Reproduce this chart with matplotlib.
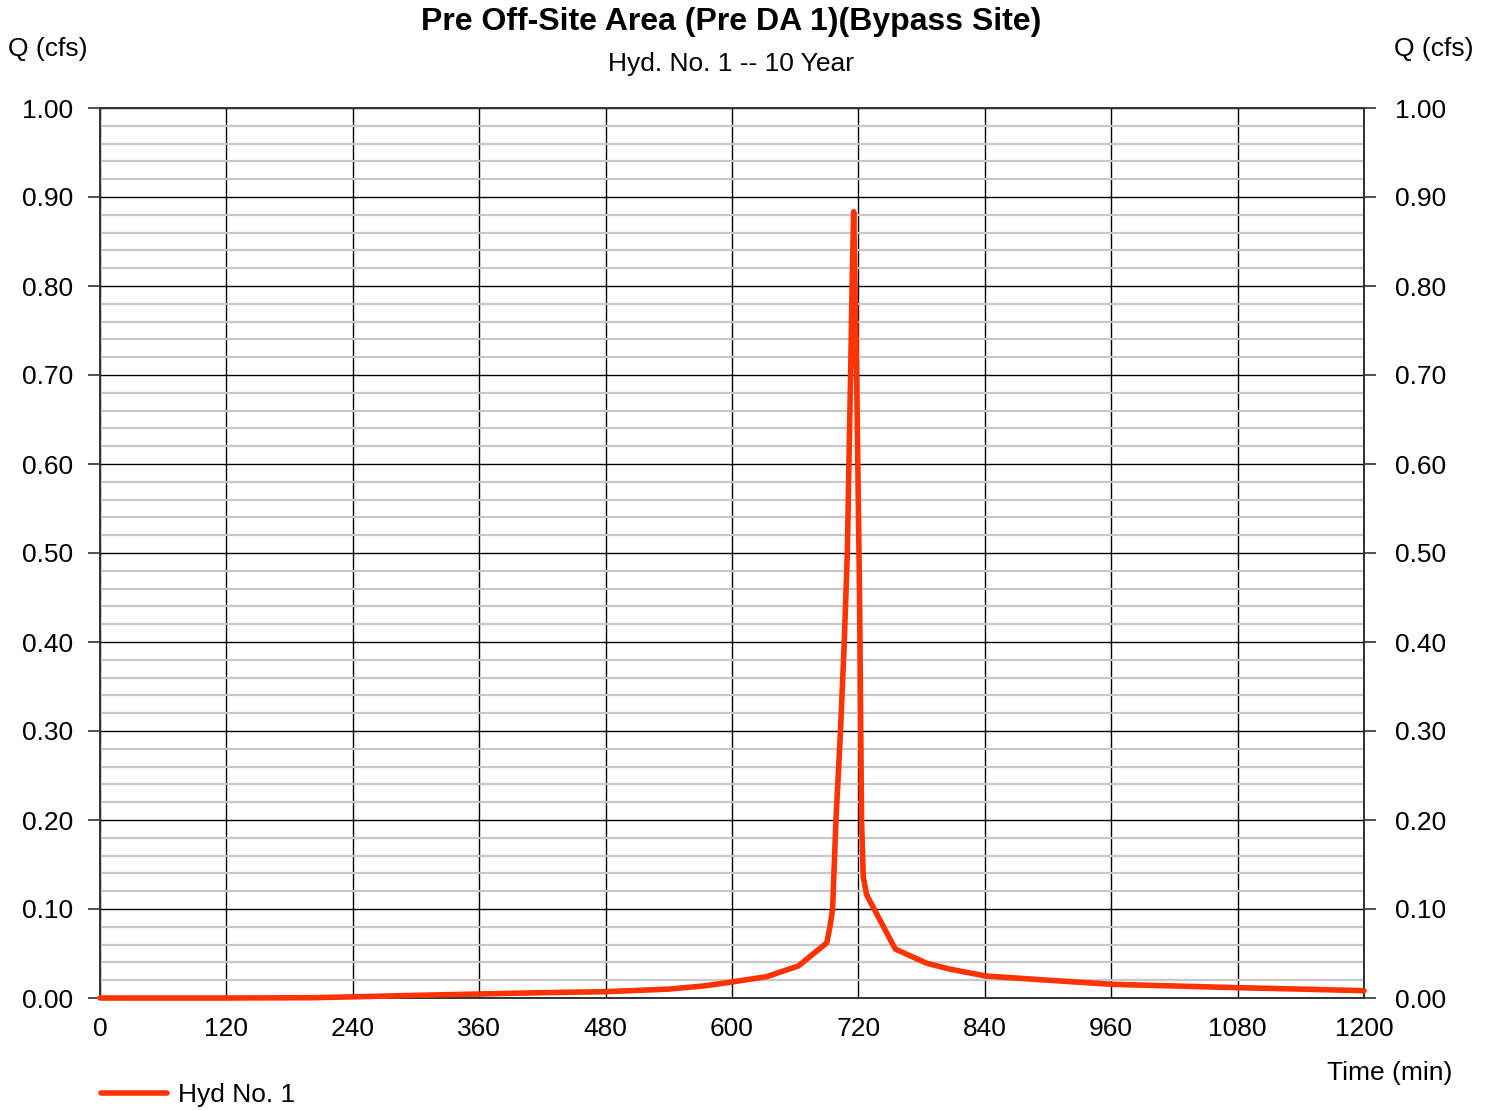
import matplotlib
matplotlib.use("Agg")
import matplotlib.pyplot as plt
from matplotlib.ticker import MultipleLocator

plt.rcParams["font.family"] = ["Liberation Sans", "DejaVu Sans"]

# hydrograph: time (min), flow (cfs)
time_min = [0, 120, 200, 240, 300, 360, 420, 480, 540, 573, 600, 633, 663,
            690, 693, 695.5, 698.7, 703, 706.6, 709.5, 711, 712.6, 714, 715.5,
            718.3, 720.9, 721.5, 723, 724.6, 727.8, 755, 785, 807, 841, 900,
            960, 1020, 1080, 1140, 1200]
flow_cfs = [0.0, 0.0, 0.0003, 0.0013, 0.003, 0.0045, 0.006, 0.0071, 0.010,
            0.0135, 0.018, 0.024, 0.036, 0.062, 0.08, 0.10, 0.20, 0.30, 0.40,
            0.50, 0.60, 0.70, 0.80, 0.8835, 0.70, 0.47, 0.40, 0.20, 0.136,
            0.116, 0.055, 0.039, 0.0324, 0.0247, 0.020, 0.0154, 0.0135, 0.0116,
            0.010, 0.0082]

q_ticks = [0.0, 0.1, 0.2, 0.3, 0.4, 0.5, 0.6, 0.7, 0.8, 0.9, 1.0]
title = "Pre Off-Site Area (Pre DA 1)(Bypass Site)"
subtitle = "Hyd. No. 1 -- 10 Year"
series_name = "Hyd No. 1"
line_color = "#FF3300"

W, H = 1491, 1110
fig = plt.figure(figsize=(W / 100, H / 100), dpi=100)
ax = fig.add_axes([100 / W, 1 - 998 / H, 1264 / W, 890 / H])

ax.set_xlim(0, 1200)
ax.set_ylim(0, 1.0)
ax.xaxis.set_major_locator(MultipleLocator(120))
ax.set_yticks(q_ticks)
ax.yaxis.set_minor_locator(MultipleLocator(0.02))
ax.yaxis.set_major_formatter(lambda v, p: f"{v:.2f}")

ax.grid(axis="y", which="minor", color="#c8c8c8", lw=1.6, zorder=0)
ax.grid(axis="y", which="major", color="black", lw=1.0, zorder=1)
ax.grid(axis="x", which="major", color="black", lw=1.0, zorder=1)
ax.set_axisbelow(True)

ax.tick_params(axis="y", which="major", left=True, right=False, labelleft=True,
               labelright=False, length=8.6, width=1.2, color="#333333",
               labelsize=19, pad=11)
ax.tick_params(axis="y", which="minor", left=False, right=False)
ax.tick_params(axis="x", which="major", length=0, labelsize=19, pad=14)
for side in ["left", "right", "top", "bottom"]:
    ax.spines[side].set_color("#333333")
    ax.spines[side].set_linewidth(1.4)

# right-hand scale mirrors the left one
rax = ax.secondary_yaxis("right")
rax.set_yticks(q_ticks)
rax.yaxis.set_major_formatter(lambda v, p: f"{v:.2f}")
rax.tick_params(axis="y", which="major", length=8.6, width=1.2,
                color="#333333", labelsize=19, pad=14)
rax.tick_params(axis="y", which="minor", right=False)
rax.spines["right"].set_color("#333333")
rax.spines["right"].set_linewidth(1.4)

line, = ax.plot(time_min, flow_cfs, color=line_color, lw=4.0,
                solid_joinstyle="round", solid_capstyle="round", zorder=3,
                clip_on=False)

fig.text(731 / W, 1 - 22 / H, title, ha="center", va="center",
         fontsize=23, fontweight="bold")
fig.text(731 / W, 1 - 64 / H, subtitle, ha="center", va="center", fontsize=19)
fig.text(8 / W, 1 - 49 / H, "Q (cfs)", ha="left", va="center", fontsize=19)
fig.text(1474 / W, 1 - 49 / H, "Q (cfs)", ha="right", va="center", fontsize=19)
fig.text(1452 / W, 1 - 1073 / H, "Time (min)", ha="right", va="center",
         fontsize=19)

fig.legend([line], [series_name], loc="center left",
           bbox_to_anchor=(90 / W, 1 - 1095 / H), frameon=False, fontsize=19,
           handlelength=2.5, handletextpad=0.45, borderaxespad=0)

fig.savefig("out.png", dpi=100)
